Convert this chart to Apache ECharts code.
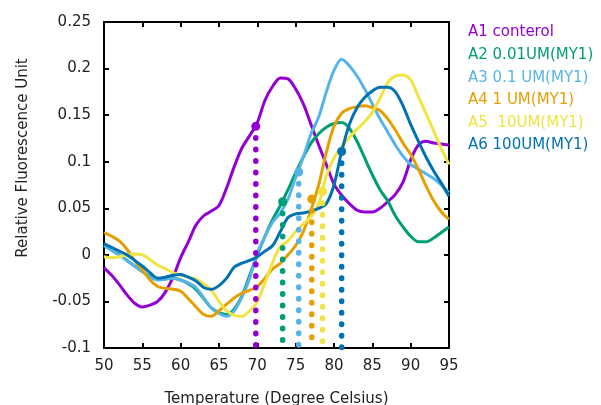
<!DOCTYPE html>
<html>
<head>
<meta charset="utf-8">
<script src="https://cdn.jsdelivr.net/npm/echarts@6/dist/echarts.min.js"></script>
<style>
html, body { margin: 0; padding: 0; background: #fff; }
#meltChart { width: 601px; height: 405px; }
</style>
</head>
<body>
<div id="meltChart"></div>
<script>
// temperature steps (degree Celsius)
var temps = [50,51,52,53,54,55,56,57,58,59,60,61,62,63,64,65,66,67,68,69,70,71,72,
	73,74,75,76,77,78,79,80,81,82,83,84,85,86,87,88,89,90,91,92,93,94,95];

var seriesNames = ['A1 conterol', 'A2 0.01UM(MY1)', 'A3 0.1 UM(MY1)', 'A4 1 UM(MY1)', 'A5  10UM(MY1)', 'A6 100UM(MY1)'];
var colors = ['#9400D3', '#009E73', '#56B4E9', '#E69F00', '#F0E442', '#0072B2'];

var a1 = [-0.014,-0.022,-0.032,-0.043,-0.052,-0.056,-0.054,-0.05,-0.04,-0.024,-0.003,0.014,0.032,0.042,0.047,0.053,
	0.072,0.095,0.115,0.128,0.142,0.166,0.181,0.19,0.189,0.178,0.162,0.14,0.118,0.097,0.076,0.064,0.055,0.048,0.046,0.046,
	0.05,0.057,0.065,0.078,0.102,0.118,0.122,0.12,0.119,0.118];
var a2 = [0.01,0.005,0.0,-0.006,-0.012,-0.018,-0.023,-0.026,-0.026,-0.025,-0.027,-0.031,-0.037,-0.047,-0.057,-0.062,
	-0.064,-0.058,-0.044,-0.022,0.0,0.02,0.038,0.053,0.07,0.088,0.105,0.12,0.13,0.137,0.141,0.142,0.136,0.122,0.104,0.086,
	0.07,0.058,0.042,0.03,0.02,0.014,0.014,0.018,0.024,0.03];
var a3 = [0.01,0.005,0.0,-0.006,-0.012,-0.018,-0.024,-0.027,-0.026,-0.025,-0.027,-0.03,-0.035,-0.046,-0.057,-0.063,
	-0.066,-0.06,-0.045,-0.025,0.002,0.02,0.035,0.045,0.06,0.083,0.105,0.13,0.148,0.175,0.198,0.21,0.203,0.192,0.178,0.162,
	0.146,0.132,0.118,0.106,0.097,0.092,0.087,0.082,0.075,0.067];
var a4 = [0.024,0.02,0.015,0.006,-0.006,-0.016,-0.027,-0.034,-0.036,-0.037,-0.039,-0.047,-0.056,-0.064,-0.066,-0.06,
	-0.053,-0.046,-0.041,-0.038,-0.034,-0.025,-0.015,-0.009,0.0,0.01,0.025,0.048,0.075,0.11,0.138,0.152,0.157,0.159,0.16,0.158,
	0.155,0.146,0.134,0.12,0.108,0.092,0.074,0.058,0.046,0.038];
var a5 = [-0.002,-0.003,-0.002,0.0,0.001,0.0,-0.005,-0.011,-0.015,-0.019,-0.022,-0.024,-0.026,-0.031,-0.038,-0.05,
	-0.06,-0.065,-0.066,-0.06,-0.05,-0.03,-0.008,0.009,0.015,0.025,0.033,0.041,0.055,0.085,0.104,0.116,0.126,0.135,0.143,0.153,
	0.168,0.185,0.192,0.193,0.188,0.17,0.152,0.133,0.114,0.097];
var a6 = [0.012,0.008,0.004,0.0,-0.006,-0.012,-0.019,-0.025,-0.024,-0.022,-0.021,-0.024,-0.028,-0.035,-0.037,-0.033,
	-0.025,-0.013,-0.009,-0.006,-0.002,0.004,0.01,0.025,0.04,0.044,0.045,0.047,0.05,0.055,0.075,0.111,0.14,0.158,0.169,0.176,
	0.18,0.18,0.175,0.16,0.14,0.122,0.105,0.09,0.077,0.063];

// melting points (dotted drop lines)
var meltTemps = [69.8, 73.3, 75.4, 77.1, 78.5, 81.0];
var meltValues = [0.138, 0.057, 0.089, 0.06, 0.068, 0.111];

var yTicks = [-0.1, 0.25, 0.05]; // min, max, interval
var xTicks = [50, 95, 5];

var curves = [a1, a2, a3, a4, a5, a6];
var series = [];
curves.forEach(function (vals, i) {
	series.push({
		name: seriesNames[i],
		type: 'line',
		smooth: 0.3,
		symbol: 'none',
		data: temps.map(function (t, j) { return [t, vals[j]]; }),
		lineStyle: { color: colors[i], width: 3 },
		itemStyle: { color: colors[i] },
		z: 2
	});
});
meltTemps.forEach(function (t, i) {
	series.push({
		name: 'melt' + i,
		type: 'line',
		symbol: 'circle',
		showSymbol: true,
		data: [
			{ value: [t, meltValues[i]], symbol: 'circle', symbolSize: 9 },
			{ value: [t, yTicks[0]], symbol: 'none' }
		],
		lineStyle: { color: colors[i], width: 5.5, type: [0.5, 11], cap: 'round' },
		itemStyle: { color: colors[i] },
		z: 3
	});
});

var font = 'DejaVu Sans';
var frameLine = { show: true, onZero: false, lineStyle: { color: '#000', width: 2 } };
var frameTick = { show: true, inside: true, length: 5, lineStyle: { color: '#000', width: 2 } };
var option = {
	animation: false,
	textStyle: { fontFamily: font },
	grid: { left: 104, top: 22, right: 152, bottom: 57, outerBoundsMode: 'none' },
	legend: {
		orient: 'vertical',
		left: 463,
		top: 25,
		icon: 'none',
		itemWidth: 0,
		itemHeight: 14,
		itemGap: 7.6,
		padding: 0,
		data: seriesNames.map(function (n, i) {
			return { name: n, textStyle: { color: colors[i], fontSize: 15, fontFamily: font } };
		})
	},
	xAxis: [{
		type: 'value',
		min: xTicks[0], max: xTicks[1], interval: xTicks[2],
		name: 'Temperature (Degree Celsius)',
		nameLocation: 'middle',
		nameGap: 44,
		nameTextStyle: { fontSize: 15, color: '#222', fontFamily: font },
		axisLine: frameLine,
		axisTick: frameTick,
		axisLabel: { fontSize: 15, color: '#222', margin: 11, fontFamily: font },
		splitLine: { show: false }
	}, {
		type: 'value', position: 'top',
		min: xTicks[0], max: xTicks[1], interval: xTicks[2],
		axisLine: frameLine,
		axisTick: frameTick,
		axisLabel: { show: false },
		splitLine: { show: false }
	}],
	yAxis: [{
		type: 'value',
		min: yTicks[0], max: yTicks[1], interval: yTicks[2],
		axisLine: frameLine,
		axisTick: frameTick,
		axisLabel: { fontSize: 15, color: '#222', margin: 13, fontFamily: font },
		splitLine: { show: false }
	}, {
		type: 'value', position: 'right',
		min: yTicks[0], max: yTicks[1], interval: yTicks[2],
		axisLine: frameLine,
		axisTick: frameTick,
		axisLabel: { show: false },
		splitLine: { show: false }
	}],
	graphic: [{
		type: 'text',
		x: 23, y: 158,
		rotation: Math.PI / 2,
		style: {
			text: 'Relative Fluorescence Unit',
			fill: '#222',
			font: '15px "DejaVu Sans"',
			align: 'center',
			verticalAlign: 'middle'
		}
	}],
	series: series
};

var meltChart = echarts.init(document.getElementById('meltChart'));
meltChart.setOption(option);
</script>
</body>
</html>
